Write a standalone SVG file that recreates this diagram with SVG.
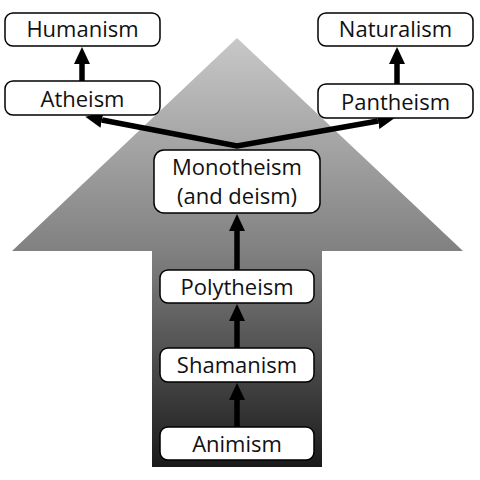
<svg xmlns="http://www.w3.org/2000/svg" width="480" height="480" viewBox="0 0 480 480">
<defs>
<linearGradient id="bg" x1="0" y1="38" x2="0" y2="467" gradientUnits="userSpaceOnUse">
<stop offset="0" stop-color="#c8c8c8"/>
<stop offset="0.5" stop-color="#808080"/>
<stop offset="1" stop-color="#1a1a1a"/>
</linearGradient>
<marker id="ah" markerUnits="userSpaceOnUse" markerWidth="18" markerHeight="16" refX="0" refY="8" orient="auto-start-reverse" viewBox="0 0 18 16">
<path d="M0,0 L17,8 L0,16 z" fill="#000"/>
</marker>
<style>
.box{fill:#fff;stroke:#000;stroke-width:1.5}
.lbl{font-family:"Open Sans","Liberation Sans",sans-serif;font-size:22px;fill:#111;text-anchor:middle}
.con{fill:none;stroke:#000;stroke-width:5.5;stroke-linejoin:miter}
</style>
</defs>
<polygon points="237,38 463,251 322,251 322,467 152,467 152,251 12,251" fill="url(#bg)"/>
<g id="connectors">
<line class="con" x1="82" y1="81" x2="82" y2="64" marker-end="url(#ah)"/>
<line class="con" x1="397" y1="84" x2="397" y2="64" marker-end="url(#ah)"/>
<path class="con" d="M102,120 L237,146 L378,121" marker-start="url(#ah)" marker-end="url(#ah)"/>
<line class="con" x1="237" y1="270" x2="237" y2="231" marker-end="url(#ah)"/>
<line class="con" x1="237" y1="348" x2="237" y2="321" marker-end="url(#ah)"/>
<line class="con" x1="237" y1="427" x2="237" y2="400" marker-end="url(#ah)"/>
</g>
<g id="humanism"><rect class="box" x="5" y="13" width="155" height="33" rx="8"/><text class="lbl" x="82.5" y="37">Humanism</text></g>
<g id="atheism"><rect class="box" x="5" y="81" width="155" height="34" rx="8"/><text class="lbl" x="82.5" y="107">Atheism</text></g>
<g id="naturalism"><rect class="box" x="318" y="13" width="155" height="33" rx="8"/><text class="lbl" x="395.5" y="37">Naturalism</text></g>
<g id="pantheism"><rect class="box" x="318" y="84" width="155" height="34" rx="8"/><text class="lbl" x="395.5" y="110">Pantheism</text></g>
<g id="monotheism"><rect class="box" x="154" y="150" width="166" height="63" rx="10"/><text class="lbl" x="237" y="175">Monotheism</text><text class="lbl" x="237" y="204">(and deism)</text></g>
<g id="polytheism"><rect class="box" x="160" y="270" width="154" height="33" rx="8"/><text class="lbl" x="237" y="295">Polytheism</text></g>
<g id="shamanism"><rect class="box" x="160" y="348" width="154" height="34" rx="8"/><text class="lbl" x="237" y="373">Shamanism</text></g>
<g id="animism"><rect class="box" x="160" y="427" width="154" height="33" rx="8"/><text class="lbl" x="237" y="452">Animism</text></g>
</svg>
